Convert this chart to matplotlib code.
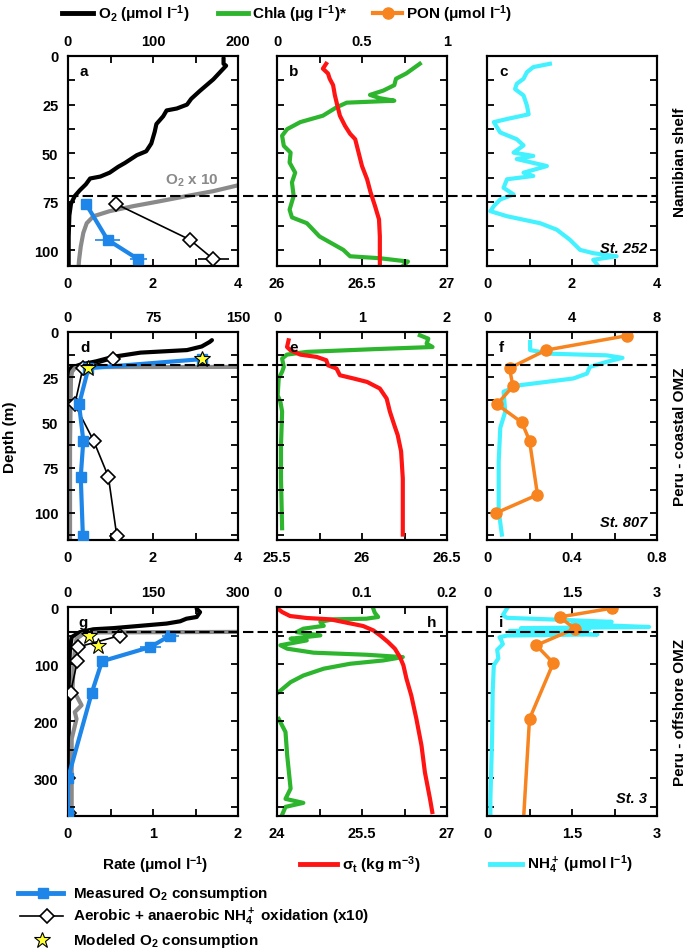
import matplotlib
matplotlib.use('Agg')
import matplotlib.pyplot as plt
import matplotlib.transforms as mtrans
from matplotlib.lines import Line2D

plt.rcParams['font.family'] = ['Liberation Sans', 'DejaVu Sans']
plt.rcParams['font.weight'] = 'bold'
plt.rcParams['mathtext.fontset'] = 'custom'
plt.rcParams['mathtext.rm'] = 'Liberation Sans:bold'
plt.rcParams['mathtext.it'] = 'Liberation Sans:bold:italic'
plt.rcParams['mathtext.bf'] = 'Liberation Sans:bold'
plt.rcParams['mathtext.default'] = 'rm'
plt.rcParams['axes.linewidth'] = 1.5

# ---------------- Daten ----------------
# Namibian shelf (St. 252)
nam_o2_depth = [1, 4, 5, 12, 18, 22, 25, 27, 28, 31, 35, 39, 45, 49, 51, 55, 57, 60, 62, 63, 66, 69, 72, 76, 82, 93, 108]
nam_o2 = [183, 183, 186, 171, 155, 145, 140, 128, 116, 112, 104, 102, 98, 92, 81, 67, 59, 49, 38, 26, 21, 14, 8, 3.5, 1.6, 0.8, 0.8]
nam_o2x10_depth = [63.2, 66.5, 69.5, 72, 74.7, 77.2, 79.8, 82.4, 86, 91, 98, 105, 108]
nam_o2x10 = [235, 200, 171, 140, 108, 77, 49, 30, 22, 18, 15, 13, 12.5]
nam_rate_depth = [76, 94.5, 104.5]
nam_o2cons = [0.42, 0.93, 1.65]
nam_o2cons_err = [0, 0.3, 0.2]
nam_nh4ox = [1.12, 2.87, 3.42]
nam_nh4ox_err = [0, 0, 0.37]
nam_chla_depth = [4, 6.5, 9, 11.7, 15, 17.8, 20, 21.7, 23, 24, 26.4, 30.7, 34, 37.6, 41, 46.2, 49.7, 54.8, 60, 65, 72, 79, 83, 86, 92.8, 99.7, 103, 104, 105.7, 108]
nam_chla = [0.84, 0.80, 0.76, 0.70, 0.69, 0.625, 0.547, 0.605, 0.69, 0.41, 0.35, 0.27, 0.137, 0.06, 0.03, 0.04, 0.08, 0.074, 0.107, 0.088, 0.098, 0.074, 0.088, 0.176, 0.25, 0.39, 0.43, 0.605, 0.77, 0.74]
nam_sig_depth = [4, 6.5, 9, 11.7, 15, 20, 25.5, 30.7, 35.9, 40, 42.8, 49.7, 56.6, 63.4, 70, 77, 84, 92.8, 108]
nam_sig = [26.289, 26.27, 26.30, 26.31, 26.33, 26.34, 26.355, 26.37, 26.40, 26.43, 26.46, 26.48, 26.50, 26.53, 26.55, 26.576, 26.60, 26.605, 26.605]
nam_nh4_depth = [4, 5.7, 8.3, 11.7, 14.3, 17, 20.3, 25.5, 30, 32.4, 34, 39.3, 42.8, 46, 49.7, 51.4, 53, 56.6, 60, 61.7, 63.4, 67.8, 71.2, 73.8, 77.2, 79.8, 82.4, 86, 89.3, 94.5, 99.7, 101.4, 103, 104.8, 108]
nam_nh4 = [1.48, 1.09, 0.94, 0.86, 0.70, 0.66, 0.86, 0.94, 0.98, 0.47, 0.16, 0.31, 0.70, 0.86, 0.625, 1.09, 0.70, 1.41, 0.86, 1.09, 0.47, 0.39, 0.625, 0.31, 0.16, 0.08, 0.47, 1.25, 1.64, 1.95, 2.19, 2.5, 3.05, 2.5, 2.62]

# Peru - coastal OMZ (St. 807)
cst_o2_depth = [4.5, 5.5, 8, 10, 11.4, 13.7, 16.2, 18, 19.9, 26, 60, 113]
cst_o2 = [127, 125, 118, 105, 64, 40, 25, 11, 2.4, 0.9, 0.5, 0.3]
cst_o2x10_depth = [19.2, 19.4, 20, 22, 26, 62, 114]
cst_o2x10 = [300, 15, 6, 3.5, 2.6, 1.8, 1.8]
cst_rate_depth = [15, 20, 40, 60, 80, 113]
cst_o2cons = [3.15, 0.48, 0.26, 0.36, 0.30, 0.35]
cst_nh4ox = [1.05, 0.35, 0.16, 0.60, 0.95, 1.15]
cst_model_depth = [15, 20]
cst_model = [3.15, 0.48]
cst_chla_depth = [1.8, 3.7, 6.4, 8.3, 9.5, 11, 12.5, 14.7, 19.3, 22, 25.7, 35, 38.6, 44, 62.5, 81, 108.5]
cst_chla = [1.68, 1.78, 1.76, 1.83, 1.13, 0.35, 0.117, 0.06, 0.08, 0.06, 0.02, 0.008, 0.04, 0.06, 0.047, 0.047, 0.06]
cst_sig_depth = [4.6, 8.3, 10, 12.5, 13.8, 15.6, 18.4, 20.2, 23.9, 25.7, 27.6, 31.25, 36.8, 44, 51.5, 57, 66, 81, 112]
cst_sig = [25.568, 25.559, 25.578, 25.637, 25.734, 25.79, 25.80, 25.85, 25.87, 25.95, 26.03, 26.105, 26.145, 26.164, 26.19, 26.21, 26.23, 26.24, 26.24]
cst_pon_depth = [2, 10, 20, 30, 40, 50, 60, 90, 100]
cst_pon = [6.6, 2.78, 1.06, 1.22, 0.47, 1.64, 2.0, 2.375, 0.44]
cst_nh4_depth = [5.5, 10, 12, 12.9, 14.3, 16.5, 19.3, 23, 25.7, 29.4, 33, 44, 53, 71.7, 99, 112]
cst_nh4 = [0.203, 0.203, 0.297, 0.5625, 0.6375, 0.5625, 0.484, 0.47, 0.406, 0.156, 0.078, 0.086, 0.0625, 0.055, 0.055, 0.07]

# Peru - offshore OMZ (St. 3)
off_o2_depth = [3, 9, 17.5, 20.5, 25, 29, 33, 37, 39, 44, 52.6, 73, 114, 336, 366]
off_o2 = [227, 233, 227, 209, 198, 174, 127, 80, 45, 21, 6.5, 3.5, 1.8, 0.6, 0.6]
off_o2x10_depth = [43.5, 44.5, 47, 55.6, 73, 114, 143, 161, 172, 184, 196, 231, 336, 366]
off_o2x10 = [330, 56, 27, 15, 12, 9.4, 8, 18, 24, 12, 15, 6.5, 6.5, 6.5]
off_rate_depth = [50, 70, 95, 150, 300, 360]
off_o2cons = [1.2, 0.97, 0.40, 0.28, 0.0, 0.0]
off_o2cons_err = [0.1, 0.12, 0, 0, 0, 0]
off_nh4ox = [0.61, 0.12, 0.11, 0.03, 0.0, 0.01]
off_model_depth = [50, 68]
off_model = [0.25, 0.35]
off_chla_depth1 = [1.75, 10, 17.5, 20.5, 21.6, 26, 33, 38, 44, 49.7, 55.6, 58.5, 67, 73, 80, 83.6, 87.7, 93.6, 99.4, 108, 120, 131.6, 149]
off_chla1 = [0.113, 0.115, 0.119, 0.105, 0.066, 0.051, 0.055, 0.031, 0.023, 0.051, 0.016, 0.035, 0.004, 0.012, 0.043, 0.105, 0.148, 0.125, 0.086, 0.055, 0.031, 0.016, 0.002]
off_chla_depth2 = [196, 219, 260, 318, 336, 343, 350, 364]
off_chla2 = [0.002, 0.01, 0.012, 0.016, 0.010, 0.031, 0.010, 0.006]
off_sig_depth = [1.75, 8.8, 15.8, 19.3, 21.6, 27.5, 33.3, 41, 49.7, 61.4, 73, 87.7, 102, 125.7, 155, 196, 242.7, 289.5, 336, 359]
off_sig = [24.0, 24.09, 24.23, 24.53, 24.94, 25.23, 25.52, 25.70, 25.82, 25.96, 26.08, 26.17, 26.23, 26.285, 26.37, 26.46, 26.55, 26.61, 26.70, 26.74]
off_pon_depth = [2, 17.5, 38, 67, 98, 196, 380]
off_pon = [2.21, 1.28, 1.55, 0.87, 1.17, 0.75, 0.64]
off_nh4_depth = [3, 14, 19, 22, 26, 30, 35, 37, 39, 42, 45, 48, 50, 53, 58, 65, 75, 90, 102, 150, 230, 336, 365]
off_nh4 = [0.35, 0.28, 0.35, 1.2, 2.2, 1.5, 2.86, 0.6, 1.8, 0.4, 1.3, 1.95, 0.35, 0.22, 0.25, 0.28, 0.18, 0.2, 0.12, 0.1, 0.09, 0.06, 0.06]

oxycline_depth = [72, 18, 43]

# Achsen
rate_ticks = [[0, 1, 2, 3, 4], [0, 1, 2, 3, 4], [0, 0.5, 1, 1.5, 2]]
o2_ticks = [[0, 50, 100, 150, 200], [0, 37.5, 75, 112.5, 150], [0, 75, 150, 225, 300]]
sig_ticks = [[26, 26.25, 26.5, 26.75, 27], [25.5, 25.75, 26, 26.25, 26.5], [24, 24.75, 25.5, 26.25, 27]]
chla_ticks = [[0, 0.25, 0.5, 0.75, 1], [0, 0.5, 1, 1.5, 2], [0, 0.05, 0.1, 0.15, 0.2]]
nh4_ticks = [[0, 1, 2, 3, 4], [0, 0.2, 0.4, 0.6, 0.8], [0, 0.75, 1.5, 2.25, 3]]
pon_ticks = [None, [0, 2, 4, 6, 8], [0, 0.75, 1.5, 2.25, 3]]
depth_max = [108, 115, 366]
depth_major = [[0, 25, 50, 75, 100], [0, 25, 50, 75, 100], [0, 100, 200, 300]]
depth_minor = [[12.5, 37.5, 62.5, 87.5], [12.5, 37.5, 62.5, 87.5, 112.5], [50, 150, 250, 350]]
panel_letters = ['abc', 'def', 'ghi']
stations = ['St. 252', 'St. 807', 'St. 3']
regions = ['Namibian shelf', 'Peru - coastal OMZ', 'Peru - offshore OMZ']

BLUE = '#1e86e8'
GREEN = '#2db52d'
RED = '#ff1414'
CYAN = '#44f2ff'
ORANGE = '#f7841f'
GREY = '#8a8a8a'

W, H = 689, 953
COLS = [(68, 238), (277, 447), (487, 657)]
ROWS = [(57, 267), (333, 541), (608, 817)]
FS = 10.5

fig = plt.figure(figsize=(W / 100, H / 100), dpi=100, facecolor='white')


def labs(ticks):
    return ['%g' % t if i % 2 == 0 else '' for i, t in enumerate(ticks)]


def make_panel(r, c, bot, top):
    x0, x1 = COLS[c]
    y0, y1 = ROWS[r]
    ax = fig.add_axes([x0 / W, 1 - y1 / H, (x1 - x0) / W, (y1 - y0) / H])
    tw = ax.twiny()
    ax.set_ylim(depth_max[r], 0)
    ax.set_yticks(depth_major[r])
    ax.set_yticks(depth_minor[r], minor=True)
    ax.tick_params(axis='y', which='both', direction='in', left=True, right=True,
                   length=5, width=1.3, labelsize=FS, pad=7, labelleft=(c == 0))
    ax.set_xlim(bot[0], bot[-1])
    ax.set_xticks(bot)
    ax.set_xticklabels(labs(bot))
    ax.tick_params(axis='x', direction='in', length=5, width=1.3, labelsize=FS, pad=7)
    if top is None:
        tw.set_xticks([])
    else:
        tw.set_xlim(top[0], top[-1])
        tw.set_xticks(top)
        tw.set_xticklabels(labs(top))
        tw.tick_params(axis='x', direction='in', length=5, width=1.3, labelsize=FS, pad=6)
    ax.patch.set_visible(False)
    return ax, tw


def dash_row(ax, depth):
    tr = mtrans.blended_transform_factory(fig.transFigure, ax.transData)
    fig.add_artist(Line2D([COLS[0][0] / W, (COLS[2][1] + 1) / W], [depth, depth], transform=tr,
                          color='black', lw=1.5, ls=(0, (5, 2)), zorder=10))


sets = [
    (nam_o2_depth, nam_o2, nam_o2x10_depth, nam_o2x10, nam_rate_depth, nam_o2cons, nam_o2cons_err,
     nam_nh4ox, nam_nh4ox_err, None, None),
    (cst_o2_depth, cst_o2, cst_o2x10_depth, cst_o2x10, cst_rate_depth, cst_o2cons, None,
     cst_nh4ox, None, cst_model_depth, cst_model),
    (off_o2_depth, off_o2, off_o2x10_depth, off_o2x10, off_rate_depth, off_o2cons, off_o2cons_err,
     off_nh4ox, None, off_model_depth, off_model),
]
chla_sets = [[(nam_chla_depth, nam_chla)], [(cst_chla_depth, cst_chla)],
             [(off_chla_depth1, off_chla1), (off_chla_depth2, off_chla2)]]
sig_sets = [(nam_sig_depth, nam_sig), (cst_sig_depth, cst_sig), (off_sig_depth, off_sig)]
nh4_sets = [(nam_nh4_depth, nam_nh4), (cst_nh4_depth, cst_nh4), (off_nh4_depth, off_nh4)]
pon_sets = [None, (cst_pon_depth, cst_pon), (off_pon_depth, off_pon)]

for r in range(3):
    o2d, o2, gd, g, rd, cons, cons_err, nox, nox_err, md, mv = sets[r]

    # Spalte 1: O2 und Raten
    ax, tw = make_panel(r, 0, rate_ticks[r], o2_ticks[r])
    ax.set_zorder(2)
    tw.plot(o2, o2d, color='black', lw=3, solid_capstyle='round')
    tw.plot(g, gd, color=GREY, lw=3)
    ax.errorbar(nox, rd, xerr=nox_err, color='black', lw=1.2, marker='D', ms=7.5,
                mfc='white', mec='black', mew=1.2, capsize=0, elinewidth=1.2, zorder=3)
    ax.errorbar(cons, rd, xerr=cons_err, color=BLUE, lw=3, marker='s', ms=7.5,
                mfc=BLUE, mec=BLUE, capsize=0, elinewidth=1.2, zorder=4)
    if md is not None:
        ax.plot(mv, md, ls='none', marker='*', ms=12, mfc='#ffff33', mec='black', mew=0.8, zorder=5)
    ax.text(0.07 if r != 2 else 0.06, 0.93, panel_letters[r][0], transform=ax.transAxes,
            fontsize=FS + 0.5, va='center', ha='left', zorder=6)
    if r == 0:
        ax.text(0.73, 63.5, 'O$_2$ x 10', color=GREY, fontsize=FS + 0.5, ha='center', va='center',
                transform=mtrans.blended_transform_factory(ax.transAxes, ax.transData))
    dash_row(ax, oxycline_depth[r])

    # Spalte 2: Chla und sigma_t
    ax, tw = make_panel(r, 1, sig_ticks[r], chla_ticks[r])
    ax.set_zorder(2)
    for cd, cv in chla_sets[r]:
        tw.plot(cv, cd, color=GREEN, lw=3)
    ax.plot(sig_sets[r][1], sig_sets[r][0], color=RED, lw=3)
    if r == 2:
        ax.text(0.94, 0.93, panel_letters[r][1], transform=ax.transAxes, fontsize=FS + 0.5,
                va='center', ha='right', zorder=6)
    else:
        ax.text(0.07, 0.93, panel_letters[r][1], transform=ax.transAxes, fontsize=FS + 0.5,
                va='center', ha='left', zorder=6)

    # Spalte 3: NH4 und PON
    ax, tw = make_panel(r, 2, nh4_ticks[r], pon_ticks[r])
    ax.plot(nh4_sets[r][1], nh4_sets[r][0], color=CYAN, lw=3)
    if pon_sets[r] is not None:
        tw.plot(pon_sets[r][1], pon_sets[r][0], color=ORANGE, lw=2.5, marker='o', ms=8,
                mfc=ORANGE, mec=ORANGE)
    ax.text(0.07, 0.93, panel_letters[r][2], transform=ax.transAxes, fontsize=FS + 0.5,
            va='center', ha='left', zorder=6)
    ax.text(0.94, 0.085, stations[r], transform=ax.transAxes, fontsize=FS,
            style='italic', ha='right', va='center')

    yc = (ROWS[r][0] + ROWS[r][1]) / 2
    fig.text(680 / W, 1 - yc / H, regions[r], rotation=90, ha='center', va='center', fontsize=11)

fig.text(10 / W, 1 - 437 / H, 'Depth (m)', rotation=90, ha='center', va='center', fontsize=11)


# Legenden
def fy(y):
    return 1 - y / H


def fig_line(x0, x1, y, **kw):
    fig.add_artist(Line2D([x0 / W, x1 / W], [fy(y), fy(y)], transform=fig.transFigure, **kw))


def fig_mark(x, y, **kw):
    fig.add_artist(Line2D([x / W], [fy(y)], transform=fig.transFigure, ls='none', **kw))


fig_line(62, 93, 14, color='black', lw=3.5)
fig.text(98 / W, fy(14), 'O$_2$ (μmol l$^{-1}$)', ha='left', va='center', fontsize=11)
fig_line(218, 248, 14, color=GREEN, lw=3.5)
fig.text(252 / W, fy(14), 'Chla (μg l$^{-1}$)*', ha='left', va='center', fontsize=11)
fig_line(373, 402, 14, color=ORANGE, lw=3)
fig_mark(388, 14, marker='o', ms=8, mfc=ORANGE, mec=ORANGE)
fig.text(406 / W, fy(14), 'PON (μmol l$^{-1}$)', ha='left', va='center', fontsize=11)

fig.text(155 / W, fy(865), 'Rate (μmol l$^{-1}$)', ha='center', va='center', fontsize=11)
fig_line(300, 337, 865, color=RED, lw=3.5)
fig.text(342 / W, fy(865), 'σ$_t$ (kg m$^{-3}$)', ha='left', va='center', fontsize=11)
fig_line(490, 522, 865, color=CYAN, lw=3.5)
fig.text(527 / W, fy(865), 'NH$_4^+$ (μmol l$^{-1}$)', ha='left', va='center', fontsize=11)

fig_line(18, 63, 894, color=BLUE, lw=3.5)
fig_mark(43, 894, marker='s', ms=7.5, mfc=BLUE, mec=BLUE)
fig.text(73 / W, fy(894), 'Measured O$_2$ consumption', ha='left', va='center', fontsize=11)
fig_line(20, 63, 917, color='black', lw=1.2)
fig_mark(47, 917, marker='D', ms=7.5, mfc='white', mec='black', mew=1.2)
fig.text(73 / W, fy(917), 'Aerobic + anaerobic NH$_4^+$ oxidation (x10)', ha='left', va='center', fontsize=11)
fig_mark(42, 941, marker='*', ms=12, mfc='#ffff33', mec='black', mew=0.8)
fig.text(73 / W, fy(941), 'Modeled O$_2$ consumption', ha='left', va='center', fontsize=11)

fig.savefig('out.png', dpi=100, facecolor='white')
